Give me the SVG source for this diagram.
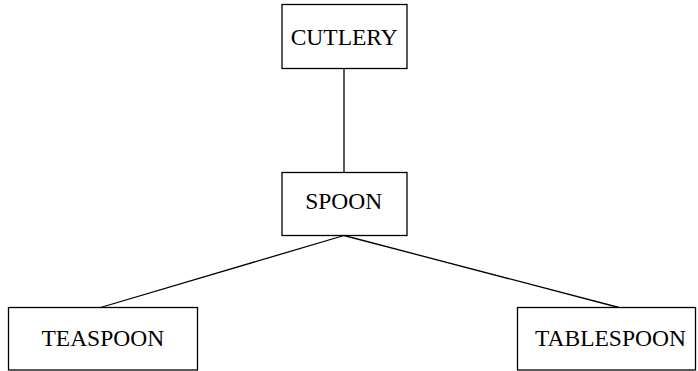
<svg xmlns="http://www.w3.org/2000/svg" width="698" height="371" viewBox="0 0 698 371">
<style>
.box{fill:#fff;stroke:#000;stroke-width:1.3}
.lbl{font-family:"Liberation Serif","Times New Roman",serif;font-size:23.5px;fill:#000;text-anchor:middle}
.edge{stroke:#000;stroke-width:1.3;fill:none}
</style>
<rect width="698" height="371" fill="#fff"/>
<g id="connectors">
<line class="edge" x1="344" y1="68.5" x2="344" y2="172.5"/>
<line class="edge" x1="344" y1="235.5" x2="100.5" y2="307.5"/>
<line class="edge" x1="344" y1="235.5" x2="619" y2="307.5"/>
</g>
<g id="cutlery">
<rect class="box" x="282" y="4.5" width="125" height="64"/>
<text class="lbl" x="344.2" y="45">CUTLERY</text>
</g>
<g id="spoon">
<rect class="box" x="282" y="172.5" width="125" height="63"/>
<text class="lbl" x="343.7" y="209.3">SPOON</text>
</g>
<g id="teaspoon">
<rect class="box" x="8.5" y="307.5" width="189" height="62.5"/>
<text class="lbl" x="102.8" y="346">TEASPOON</text>
</g>
<g id="tablespoon">
<rect class="box" x="517.5" y="307.5" width="178" height="62.5"/>
<text class="lbl" x="610.5" y="346">TABLESPOON</text>
</g>
</svg>
